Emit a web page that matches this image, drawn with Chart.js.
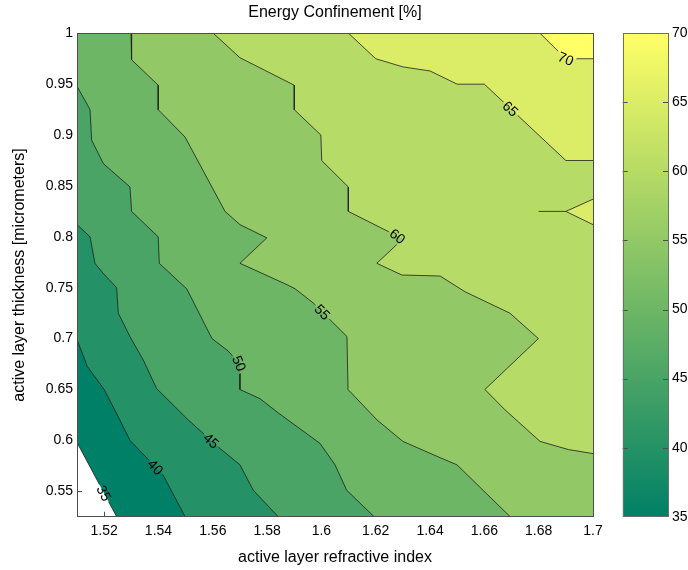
<!DOCTYPE html>
<html>
<head>
<meta charset="utf-8">
<title>Energy Confinement</title>
<script src="https://cdn.jsdelivr.net/npm/chart.js@4.4.1/dist/chart.umd.min.js"></script>
<style>
  html, body { margin: 0; padding: 0; background: #fff; overflow: hidden; }
  #wrap { position: relative; width: 688px; height: 570px; }
  #main { position: absolute; left: 0; top: 0; }
  #bar { position: absolute; left: 600px; top: 0; }
</style>
</head>
<body>
<div id="wrap">
  <canvas id="main" width="670" height="570"></canvas>
  <canvas id="bar" width="88" height="570"></canvas>
</div>
<script>
// Axis ranges and ticks
const X_MIN = 1.51, X_MAX = 1.70, Y_MIN = 0.525, Y_MAX = 1.0;
const xTicks = [1.52, 1.54, 1.56, 1.58, 1.6, 1.62, 1.64, 1.66, 1.68, 1.7];
const yTicks = [0.55, 0.6, 0.65, 0.7, 0.75, 0.8, 0.85, 0.9, 0.95, 1];
const cbTicks = [35, 40, 45, 50, 55, 60, 65, 70];
const cbRange = [35, 70];

// Contour levels and the level lines ([index, thickness])
const levels = [35, 40, 45, 50, 55, 60, 65, 70];
const c35 = [[1.51, 0.598], [1.5246, 0.525]];
const c40 = [[1.51, 0.699], [1.5129, 0.679], [1.5137, 0.673], [1.52, 0.650], [1.5258, 0.620],
    [1.5295, 0.600], [1.5417, 0.566], [1.5498, 0.525]];
const c45 = [[1.51, 0.812], [1.5148, 0.800], [1.5166, 0.774], [1.5197, 0.764], [1.5246, 0.750],
    [1.5252, 0.725], [1.5295, 0.702], [1.5344, 0.679], [1.5393, 0.651], [1.5510, 0.620],
    [1.5627, 0.592], [1.57, 0.576], [1.5749, 0.551], [1.5841, 0.525]];
const c50 = [[1.51, 0.948], [1.5148, 0.925], [1.5154, 0.895], [1.5197, 0.872], [1.5295, 0.849],
    [1.5301, 0.825], [1.5399, 0.800], [1.5403, 0.774], [1.5479, 0.755], [1.5504, 0.749],
    [1.5597, 0.700], [1.5656, 0.688], [1.57, 0.675], [1.57, 0.650], [1.5774, 0.641],
    [1.5841, 0.627], [1.5995, 0.597], [1.6050, 0.576], [1.6093, 0.551], [1.6194, 0.525]];
const c55 = [[1.5299, 1.0], [1.5301, 0.974], [1.5399, 0.949], [1.5399, 0.925], [1.5498, 0.898],
    [1.5645, 0.825], [1.57, 0.812], [1.5799, 0.799], [1.57, 0.774], [1.5873, 0.753],
    [1.5903, 0.749], [1.5970, 0.735], [1.6094, 0.702], [1.6098, 0.650], [1.6205, 0.620],
    [1.6300, 0.599], [1.6437, 0.583], [1.6499, 0.576], [1.6695, 0.525]];
const c60 = [[1.5602, 1.0], [1.57, 0.976], [1.59, 0.949], [1.59, 0.925], [1.5998, 0.900],
    [1.6001, 0.875], [1.6099, 0.849], [1.6099, 0.825], [1.63, 0.798], [1.6204, 0.774],
    [1.6296, 0.7625], [1.6437, 0.7615], [1.6529, 0.746], [1.6694, 0.725], [1.6799, 0.700],
    [1.6602, 0.650], [1.6676, 0.630], [1.6805, 0.599], [1.6909, 0.591], [1.70, 0.587]];
const c65 = [[1.61, 1.0], [1.62, 0.975], [1.63, 0.967], [1.64, 0.963], [1.65, 0.95],
    [1.66, 0.95], [1.69, 0.875], [1.70, 0.875]];
const c70 = [[1.6805, 1.0], [1.69, 0.975], [1.70, 0.975]];
// small 65 pocket on the right edge and its spur
const island65 = [[1.70, 0.837], [1.69, 0.825], [1.70, 0.812]];
const spur65 = [[1.68, 0.825], [1.69, 0.825]];
// where the inline level labels sit
const labelXY = [[1.5195, 0.548], [1.5387, 0.573], [1.5587, 0.597], [1.5688, 0.674],
    [1.5991, 0.723], [1.6277, 0.798], [1.6688, 0.923], [1.6895, 0.974]];

Chart.defaults.font.family = '"Liberation Sans", Arial, sans-serif';
Chart.defaults.color = '#000';

// MATLAB "summer" colormap
function summer(v) {
    const t = (v - cbRange[0]) / (cbRange[1] - cbRange[0]);
    return `rgb(${Math.round(255 * t)}, ${Math.round(255 * (0.5 + 0.5 * t))}, 102)`;
}

const contours = [c35, c40, c45, c50, c55, c60, c65, c70];
const toXY = arr => arr.map(([x, y]) => ({ x, y }));
const lineStyle = {
    showLine: true, borderColor: '#1e1e1e', borderWidth: 0.8,
    pointRadius: 0, pointHoverRadius: 0, pointHitRadius: 0, fill: false, tension: 0
};
const datasets = contours.map((c, i) => ({ ...lineStyle, label: String(levels[i]), data: toXY(c), level: levels[i], kind: 'band' }));
datasets.push({ ...lineStyle, label: 'pocket', data: toXY(island65), level: 65, kind: 'island' });
datasets.push({ ...lineStyle, label: 'spur', data: toXY(spur65), level: 65, kind: 'spur' });

// corners in counter-clockwise order, starting bottom right
const corners = [[X_MAX, Y_MIN], [X_MAX, Y_MAX], [X_MIN, Y_MAX], [X_MIN, Y_MIN]];
function perim([px, py]) {
    const w = X_MAX - X_MIN, h = Y_MAX - Y_MIN, e = 1e-6;
    if (Math.abs(py - Y_MIN) < e) return (px - X_MIN) / w;
    if (Math.abs(px - X_MAX) < e) return 1 + (py - Y_MIN) / h;
    if (Math.abs(py - Y_MAX) < e) return 2 + (X_MAX - px) / w;
    return 3 + (Y_MAX - py) / h;
}

// put a label on the nearest point of the line, turned along it
function placeLabel(pts, lx, ly, text, ctx) {
    const s = [];
    for (let k = 1; k < pts.length; k++) {
        const a = pts[k - 1], b = pts[k];
        const n = Math.max(1, Math.ceil(Math.hypot(b.x - a.x, b.y - a.y)));
        for (let j = 0; j < n; j++) s.push([a.x + (b.x - a.x) * j / n, a.y + (b.y - a.y) * j / n]);
    }
    s.push([pts[pts.length - 1].x, pts[pts.length - 1].y]);
    let best = 0, bd = Infinity;
    s.forEach((p, k) => {
        const d = Math.hypot(p[0] - lx, p[1] - ly);
        if (d < bd) { bd = d; best = k; }
    });
    const p0 = s[Math.max(0, best - 9)], p1 = s[Math.min(s.length - 1, best + 9)];
    let ang = Math.atan2(p1[1] - p0[1], p1[0] - p0[0]);
    if (ang > Math.PI / 2) ang -= Math.PI;
    if (ang < -Math.PI / 2) ang += Math.PI;
    return { x: s[best][0], y: s[best][1], ang, text, w: ctx.measureText(text).width };
}

const LABEL_FONT = '14px "Liberation Sans", Arial, sans-serif';

const contourPlugin = {
    id: 'contourFill',
    beforeDatasetsDraw(chart) {
        const { ctx, chartArea: a, scales: { x, y } } = chart;
        ctx.save();
        // inward ticks first, the fills cover them like in the original
        ctx.strokeStyle = '#4d4d4d';
        ctx.lineWidth = 1;
        ctx.beginPath();
        xTicks.forEach(v => {
            const px = Math.round(x.getPixelForValue(v)) + 0.5;
            ctx.moveTo(px, a.bottom); ctx.lineTo(px, a.bottom - 5);
            ctx.moveTo(px, a.top); ctx.lineTo(px, a.top + 5);
        });
        yTicks.forEach(v => {
            const py = Math.round(y.getPixelForValue(v)) + 0.5;
            ctx.moveTo(a.left, py); ctx.lineTo(a.left + 5, py);
            ctx.moveTo(a.right, py); ctx.lineTo(a.right - 5, py);
        });
        ctx.stroke();

        // filled bands, painted from the lowest level upwards
        chart.data.datasets.forEach((ds, i) => {
            if (ds.kind === 'spur') return;
            const pts = chart.getDatasetMeta(i).data;
            ctx.beginPath();
            pts.forEach((p, k) => k ? ctx.lineTo(p.x, p.y) : ctx.moveTo(p.x, p.y));
            if (ds.kind === 'band') {
                const t0 = perim([ds.data[ds.data.length - 1].x, ds.data[ds.data.length - 1].y]);
                let t1 = perim([ds.data[0].x, ds.data[0].y]);
                if (t1 < t0) t1 += 4;
                for (let k = Math.ceil(t0); k <= Math.floor(t1); k++) {
                    const c = corners[(k - 1) % 4];
                    ctx.lineTo(x.getPixelForValue(c[0]), y.getPixelForValue(c[1]));
                }
            }
            ctx.closePath();
            ctx.fillStyle = summer(ds.level);
            ctx.fill();
        });
        ctx.restore();

        // gaps in the lines where the labels go
        ctx.font = LABEL_FONT;
        const labs = levels.map((lv, i) => placeLabel(chart.getDatasetMeta(i).data,
            x.getPixelForValue(labelXY[i][0]), y.getPixelForValue(labelXY[i][1]), String(lv), ctx));
        chart.$labs = labs;
        ctx.save();
        ctx.beginPath();
        ctx.rect(0, 0, chart.width, chart.height);
        labs.forEach(l => {
            const c = Math.cos(l.ang), s = Math.sin(l.ang), hw = l.w / 2 + 2, hh = 7;
            [[-hw, -hh], [hw, -hh], [hw, hh], [-hw, hh]].forEach(([u, v], k) => {
                const px = l.x + u * c - v * s, py = l.y + u * s + v * c;
                k ? ctx.lineTo(px, py) : ctx.moveTo(px, py);
            });
            ctx.closePath();
        });
        ctx.clip('evenodd');
    },
    afterDatasetsDraw(chart) {
        const { ctx, chartArea: a } = chart;
        ctx.restore();
        ctx.save();
        ctx.font = LABEL_FONT;
        ctx.fillStyle = '#000';
        ctx.textAlign = 'center';
        ctx.textBaseline = 'middle';
        chart.$labs.forEach(l => {
            ctx.save();
            ctx.translate(l.x, l.y);
            ctx.rotate(l.ang);
            ctx.fillText(l.text, 0, 1);
            ctx.restore();
        });
        ctx.strokeStyle = '#4d4d4d';
        ctx.lineWidth = 1;
        ctx.strokeRect(Math.round(a.left) + 0.5, Math.round(a.top) + 0.5,
            Math.round(a.right - a.left), Math.round(a.bottom - a.top));
        ctx.restore();
    }
};

new Chart(document.getElementById('main'), {
    type: 'scatter',
    data: { datasets },
    options: {
        responsive: false,
        animation: false,
        events: [],
        layout: { padding: 0 },
        plugins: {
            legend: { display: false },
            tooltip: { enabled: false },
            title: {
                display: true,
                text: 'Energy Confinement [%]',
                color: '#000',
                font: { size: 16, weight: 'normal' },
                padding: { top: 3, bottom: 11.1 }
            }
        },
        scales: {
            x: {
                type: 'linear', min: X_MIN, max: X_MAX,
                afterBuildTicks: s => { s.ticks = xTicks.map(v => ({ value: v })); },
                afterFit: s => { s.height = 53.3; },
                grid: { display: false, drawTicks: false },
                border: { display: false },
                ticks: { padding: 6, maxRotation: 0, font: { size: 14 }, callback: v => String(+v.toFixed(2)) },
                title: { display: true, text: 'active layer refractive index', font: { size: 16 }, padding: { top: 0, bottom: 3 } }
            },
            y: {
                type: 'linear', min: Y_MIN, max: Y_MAX,
                afterBuildTicks: s => { s.ticks = yTicks.map(v => ({ value: v })); },
                afterFit: s => { s.width = 77; },
                grid: { display: false, drawTicks: false },
                border: { display: false },
                ticks: { padding: 4, font: { size: 14 }, callback: v => String(+v.toFixed(2)) },
                title: { display: true, text: 'active layer thickness [micrometers]', font: { size: 16 }, padding: { top: 10, bottom: 0 } }
            },
            // empty right-hand strip so the plot and title stay centred like the original
            yRight: {
                position: 'right',
                afterFit: s => { s.width = 77; },
                grid: { display: false, drawTicks: false },
                border: { display: false },
                ticks: { display: false }
            }
        }
    },
    plugins: [contourPlugin]
});

// Colorbar
const cbFrame = {
    id: 'cbFrame',
    afterDatasetsDraw(chart) {
        const { ctx, chartArea: a, scales: { y } } = chart;
        ctx.save();
        ctx.strokeStyle = '#4d4d4d';
        ctx.lineWidth = 1;
        ctx.beginPath();
        cbTicks.slice(1, -1).forEach(v => {
            const py = Math.round(y.getPixelForValue(v)) + 0.5;
            ctx.moveTo(a.left, py); ctx.lineTo(a.left + 5, py);
            ctx.moveTo(a.right, py); ctx.lineTo(a.right - 5, py);
        });
        ctx.stroke();
        ctx.strokeStyle = '#6e6e6e';
        ctx.strokeRect(Math.round(a.left) + 0.5, Math.round(a.top) + 0.5,
            Math.round(a.right - a.left), Math.round(a.bottom - a.top));
        ctx.restore();
    }
};

new Chart(document.getElementById('bar'), {
    type: 'bar',
    data: {
        labels: [''],
        datasets: [{
            data: [cbRange],
            borderWidth: 0,
            barPercentage: 1,
            categoryPercentage: 1,
            backgroundColor: c => {
                const { ctx, chartArea } = c.chart;
                if (!chartArea) return summer(cbRange[0]);
                const g = ctx.createLinearGradient(0, chartArea.bottom, 0, chartArea.top);
                g.addColorStop(0, summer(cbRange[0]));
                g.addColorStop(1, summer(cbRange[1]));
                return g;
            }
        }]
    },
    options: {
        responsive: false,
        animation: false,
        events: [],
        layout: { padding: { left: 22.7, right: 0, top: 33.3, bottom: 53.3 } },
        plugins: { legend: { display: false }, tooltip: { enabled: false } },
        scales: {
            x: { display: false },
            y: {
                position: 'right', min: cbRange[0], max: cbRange[1],
                afterBuildTicks: s => { s.ticks = cbTicks.map(v => ({ value: v })); },
                afterFit: s => { s.width = 20; },
                grid: { display: false, drawTicks: false },
                border: { display: false },
                ticks: { padding: 4, font: { size: 14 } }
            }
        }
    },
    plugins: [cbFrame]
});
</script>
</body>
</html>
